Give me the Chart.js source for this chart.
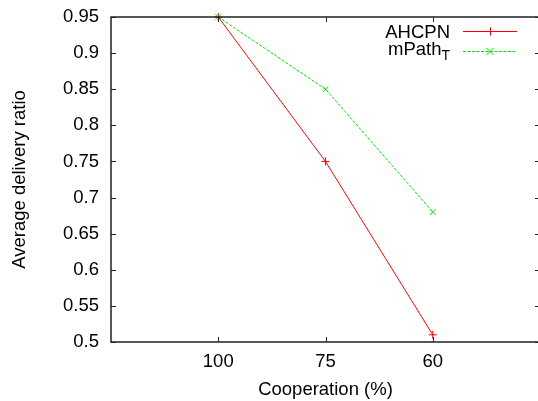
<!DOCTYPE html>
<html>
<head>
<meta charset="utf-8">
<script src="https://cdn.jsdelivr.net/npm/chart.js@4"></script>
<style>
  html, body { margin: 0; padding: 0; background: #fff; overflow: hidden; }
  #wrap { width: 538px; height: 401px; overflow: hidden; }
</style>
</head>
<body>
<div id="wrap"><canvas id="chart" width="541" height="401"></canvas></div>
<script>
// Chart data
const cooperation = ['100', '75', '60'];
const ahcpn = [0.95, 0.75, 0.51];
const mPathT = [0.95, 0.85, 0.68];
const yTickValues = [0.5, 0.55, 0.6, 0.65, 0.7, 0.75, 0.8, 0.85, 0.9, 0.95];

const FONT = "'Liberation Sans', Arial, Helvetica, sans-serif";
const RED = '#ff0000';
const GREEN = '#00e000';

// gnuplot-style box with inward ticks on all four sides, plus the key
const gnuplotFrame = {
  id: 'gnuplotFrame',
  afterDatasetsDraw(chart) {
    const ctx = chart.ctx;
    const a = chart.chartArea;
    const xs = chart.scales.x, ys = chart.scales.y;
    const tick = 5;
    ctx.save();
    ctx.strokeStyle = '#222';
    ctx.lineWidth = 1;
    ctx.beginPath();
    yTickValues.forEach(v => {
      const y = Math.round(ys.getPixelForValue(v)) + 0.5;
      ctx.moveTo(a.left, y); ctx.lineTo(a.left + tick, y);
      ctx.moveTo(a.right, y); ctx.lineTo(a.right - tick, y);
    });
    cooperation.forEach((c, i) => {
      const x = Math.round(xs.getPixelForValue(i + 1)) + 0.5;
      ctx.moveTo(x, a.bottom); ctx.lineTo(x, a.bottom - tick);
      ctx.moveTo(x, a.top); ctx.lineTo(x, a.top + tick);
    });
    ctx.stroke();
    ctx.lineWidth = 1.5;
    ctx.strokeRect(a.left, a.top, a.right - a.left, a.bottom - a.top);

    // key
    const textRight = 450;
    const x0 = 463, x1 = 517, xm = 490;
    ctx.fillStyle = '#000';
    ctx.textAlign = 'right';
    ctx.textBaseline = 'alphabetic';
    ctx.font = '18.5px ' + FONT;
    ctx.fillText('AHCPN', textRight, 37.5);

    ctx.font = '14px ' + FONT;
    const tw = ctx.measureText('T').width;
    ctx.fillText('T', textRight, 59.5);
    ctx.font = '18.5px ' + FONT;
    ctx.fillText('mPath', textRight - tw, 54.5);

    // red sample
    ctx.strokeStyle = RED;
    ctx.lineWidth = 1;
    ctx.beginPath();
    ctx.moveTo(x0, 31.5); ctx.lineTo(x1, 31.5);
    ctx.moveTo(xm - 4, 31.5); ctx.lineTo(xm + 4, 31.5);
    ctx.moveTo(xm + 0.5, 27.5); ctx.lineTo(xm + 0.5, 35.5);
    ctx.stroke();

    // green sample
    ctx.strokeStyle = GREEN;
    ctx.setLineDash([3, 1.5]);
    ctx.beginPath();
    ctx.moveTo(x0, 51.5); ctx.lineTo(x1, 51.5);
    ctx.stroke();
    ctx.setLineDash([]);
    ctx.beginPath();
    ctx.moveTo(xm - 3.5, 48); ctx.lineTo(xm + 3.5, 55);
    ctx.moveTo(xm - 3.5, 55); ctx.lineTo(xm + 3.5, 48);
    ctx.stroke();
    ctx.restore();
  }
};

// stop Chart.js from reserving room for overhanging tick labels
function noLabelPadding(s) {
  s.paddingTop = 0;
  s.paddingBottom = 0;
  s.paddingLeft = 0;
  s.paddingRight = 0;
}

new Chart(document.getElementById('chart'), {
  type: 'line',
  data: {
    datasets: [
      {
        label: 'AHCPN',
        data: ahcpn.map((v, i) => ({ x: i + 1, y: v })),
        borderColor: RED,
        backgroundColor: RED,
        borderWidth: 1,
        pointStyle: 'cross',
        pointRadius: 4,
        pointBorderColor: RED,
        pointBackgroundColor: RED,
        pointBorderWidth: 1,
        tension: 0
      },
      {
        label: 'mPath_T',
        data: mPathT.map((v, i) => ({ x: i + 1, y: v })),
        borderColor: GREEN,
        backgroundColor: GREEN,
        borderWidth: 1,
        borderDash: [3, 1.5],
        pointStyle: 'crossRot',
        pointRadius: 4,
        pointBorderColor: GREEN,
        pointBackgroundColor: GREEN,
        pointBorderWidth: 1,
        tension: 0
      }
    ]
  },
  options: {
    responsive: false,
    animation: false,
    devicePixelRatio: 1,
    clip: false,
    // right edge of the frame sits just past the picture, as in the original
    layout: { autoPadding: false, padding: { top: 17, right: 1, bottom: 0, left: 0 } },
    plugins: { legend: { display: false }, tooltip: { enabled: false } },
    scales: {
      x: {
        type: 'linear',
        min: 0,
        max: 4,
        grid: { display: false, drawTicks: false },
        border: { display: false },
        afterBuildTicks: s => { s.ticks = cooperation.map((c, i) => ({ value: i + 1 })); },
        afterFit: s => { s.height = 59; noLabelPadding(s); },
        ticks: {
          padding: 9,
          color: '#000',
          font: { family: FONT, size: 18.5 },
          callback: (v) => cooperation[v - 1]
        },
        title: {
          display: true,
          text: 'Cooperation (%)',
          color: '#000',
          font: { family: FONT, size: 18.5 },
          padding: { top: 0, bottom: 0 }
        }
      },
      y: {
        type: 'linear',
        min: 0.5,
        max: 0.95,
        grid: { display: false, drawTicks: false },
        border: { display: false },
        afterBuildTicks: s => { s.ticks = yTickValues.map(v => ({ value: v })); },
        afterFit: s => { s.width = 111; noLabelPadding(s); },
        ticks: {
          padding: 12,
          color: '#000',
          font: { family: FONT, size: 18.5 },
          callback: v => String(Number(v.toFixed(2)))
        },
        title: {
          display: true,
          text: 'Average delivery ratio',
          color: '#000',
          font: { family: FONT, size: 18.5 },
          padding: { top: 9, bottom: 0 }
        }
      }
    }
  },
  plugins: [gnuplotFrame]
});
</script>
</body>
</html>
